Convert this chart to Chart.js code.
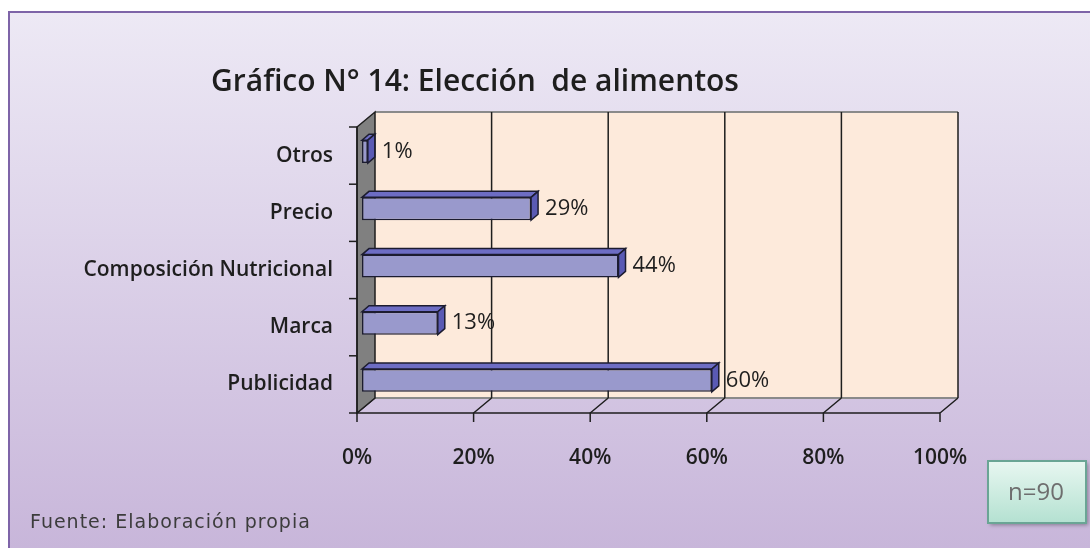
<!DOCTYPE html>
<html>
<head>
<meta charset="utf-8">
<script src="https://cdn.jsdelivr.net/npm/chart.js@4.4.1/dist/chart.umd.min.js"></script>
<style>
  html, body { margin: 0; padding: 0; background: #fff; }
</style>
</head>
<body>
<canvas id="eleccionChart" width="1090" height="548"></canvas>
<script>
// chart data
const categories = ['Otros', 'Precio', 'Composición Nutricional', 'Marca', 'Publicidad'];
const percentages = [1, 29, 44, 13, 60];
const tickValues = [0, 20, 40, 60, 80, 100];
const titleText = 'Gráfico N° 14: Elección  de alimentos';
const sourceText = 'Fuente: Elaboración propia';
const sampleText = 'n=90';

// 3d depth of the walls and of the bars
const DX = 18, DY = -15;
const BX = 7, BY = -6;

// background, walls, floor and the gridlines
const frame3d = {
  id: 'frame3d',
  beforeDraw(chart) {
    const ctx = chart.ctx;
    const xs = chart.scales.x;
    const a = chart.chartArea;
    ctx.save();
    ctx.fillStyle = '#fff';
    ctx.fillRect(0, 0, chart.width, chart.height);
    const g = ctx.createLinearGradient(0, 11, 0, 548);
    g.addColorStop(0, '#ede9f5');
    g.addColorStop(1, '#c8b6da');
    ctx.fillStyle = g;
    ctx.fillRect(9, 12, chart.width, chart.height);
    ctx.strokeStyle = '#7e64a8';
    ctx.lineWidth = 2;
    ctx.beginPath();
    ctx.moveTo(9, chart.height + 2);
    ctx.lineTo(9, 12);
    ctx.lineTo(chart.width + 2, 12);
    ctx.stroke();

    const x0 = xs.getPixelForValue(0), x1 = xs.getPixelForValue(100);
    // back wall
    ctx.fillStyle = '#fdeadb';
    ctx.fillRect(x0 + DX, a.top + DY, x1 - x0, a.bottom - a.top);
    ctx.strokeStyle = '#8a8a8a';
    ctx.lineWidth = 2;
    ctx.beginPath();
    ctx.moveTo(x0 + DX, a.top + DY);
    ctx.lineTo(x1 + DX, a.top + DY);
    ctx.moveTo(x0 + DX, a.bottom + DY);
    ctx.lineTo(x1 + DX, a.bottom + DY);
    ctx.stroke();
    // gridlines on the back wall and the floor
    ctx.strokeStyle = '#1e1e1e';
    ctx.lineWidth = 1.5;
    tickValues.forEach(v => {
      const x = xs.getPixelForValue(v);
      ctx.beginPath();
      if (v > 0) {
        ctx.moveTo(x + DX, a.top + DY);
        ctx.lineTo(x + DX, a.bottom + DY);
      }
      ctx.moveTo(x + DX, a.bottom + DY);
      ctx.lineTo(x, a.bottom);
      ctx.lineTo(x, a.bottom + 9);
      ctx.stroke();
    });
    // left wall
    ctx.fillStyle = '#808080';
    ctx.beginPath();
    ctx.moveTo(x0, a.top);
    ctx.lineTo(x0 + DX, a.top + DY);
    ctx.lineTo(x0 + DX, a.bottom + DY);
    ctx.lineTo(x0, a.bottom);
    ctx.closePath();
    ctx.fill();
    ctx.stroke();
    // front axis lines
    ctx.beginPath();
    ctx.moveTo(x0, a.top);
    ctx.lineTo(x0, a.bottom);
    ctx.lineTo(x1, a.bottom);
    ctx.stroke();
    const step = (a.bottom - a.top) / categories.length;
    for (let i = 0; i <= categories.length; i++) {
      const y = a.top + step * i;
      ctx.beginPath();
      ctx.moveTo(x0 - 8, y);
      ctx.lineTo(x0, y);
      ctx.stroke();
    }
    ctx.restore();
  },
  beforeDatasetsDraw(chart) {
    chart.ctx.save();
    chart.ctx.translate(5, -4);
  },
  afterDatasetsDraw(chart) {
    const ctx = chart.ctx;
    const meta = chart.getDatasetMeta(0);
    meta.data.forEach((bar, i) => {
      const top = bar.y - bar.height / 2;
      const bottom = bar.y + bar.height / 2;
      ctx.strokeStyle = '#1c1c30';
      ctx.lineWidth = 1.5;
      ctx.fillStyle = '#6d6dc4';
      ctx.beginPath();
      ctx.moveTo(bar.base, top);
      ctx.lineTo(bar.x, top);
      ctx.lineTo(bar.x + BX, top + BY);
      ctx.lineTo(bar.base + BX, top + BY);
      ctx.closePath();
      ctx.fill();
      ctx.stroke();
      ctx.fillStyle = '#5a5ab4';
      ctx.beginPath();
      ctx.moveTo(bar.x, top);
      ctx.lineTo(bar.x + BX, top + BY);
      ctx.lineTo(bar.x + BX, bottom + BY);
      ctx.lineTo(bar.x, bottom);
      ctx.closePath();
      ctx.fill();
      ctx.stroke();
      // value label
      ctx.fillStyle = '#1e1e1e';
      ctx.font = '22px "Open Sans"';
      ctx.textAlign = 'left';
      ctx.textBaseline = 'middle';
      ctx.fillText(percentages[i] + '%', bar.x + BX + 7, bar.y);
    });
    ctx.restore();
  },
  afterDraw(chart) {
    const ctx = chart.ctx;
    ctx.save();
    // source note
    ctx.fillStyle = '#3c3c3c';
    ctx.font = '19px "DejaVu Sans"';
    ctx.letterSpacing = '1px';
    ctx.textBaseline = 'middle';
    ctx.fillText(sourceText, 30, 523);
    ctx.letterSpacing = '0px';
    // sample size box
    ctx.shadowColor = 'rgba(0,0,0,0.35)';
    ctx.shadowBlur = 4;
    ctx.shadowOffsetX = 2;
    ctx.shadowOffsetY = 2;
    const g = ctx.createLinearGradient(0, 461, 0, 523);
    g.addColorStop(0, '#e8f7f1');
    g.addColorStop(1, '#b4e1d1');
    ctx.fillStyle = g;
    ctx.fillRect(988, 461, 98, 62);
    ctx.shadowColor = 'transparent';
    ctx.strokeStyle = '#6aa595';
    ctx.lineWidth = 2;
    ctx.strokeRect(988, 461, 98, 62);
    ctx.fillStyle = '#6e6e6e';
    ctx.font = '24px "Open Sans"';
    ctx.textAlign = 'center';
    ctx.fillText(sampleText, 1036, 493);
    ctx.restore();
  }
};

const ctxChart = document.getElementById('eleccionChart');

new Chart(ctxChart, {
  type: 'bar',
  data: {
    labels: categories,
    datasets: [{
      data: percentages,
      backgroundColor: '#9999cc',
      borderColor: '#1c1c30',
      borderWidth: 1.5,
      borderSkipped: false,
      barPercentage: 0.4,
      categoryPercentage: 1
    }]
  },
  options: {
    indexAxis: 'y',
    responsive: false,
    animation: false,
    devicePixelRatio: 1,
    layout: { padding: { left: 10, right: 150, top: 0, bottom: 0 } },
    plugins: {
      legend: { display: false },
      tooltip: { enabled: false },
      title: {
        display: true,
        text: titleText,
        color: '#1e1e1e',
        font: { family: 'Open Sans', size: 30, weight: '600', lineHeight: 1.2 },
        padding: { top: 64, bottom: 27 }
      }
    },
    scales: {
      x: {
        min: 0,
        max: 100,
        afterFit: s => { s.height = 135; },
        afterBuildTicks: s => { s.ticks = tickValues.map(v => ({ value: v })); },
        grid: { display: false, drawTicks: false },
        border: { display: false },
        ticks: {
          padding: 32,
          color: '#1e1e1e',
          font: { family: 'Open Sans', size: 21, weight: '600' },
          callback: v => v + '%'
        }
      },
      y: {
        afterFit: s => { s.width = 347; },
        grid: { display: false, drawTicks: false },
        border: { display: false },
        ticks: {
          padding: 24,
          color: '#1e1e1e',
          font: { family: 'Open Sans', size: 21, weight: '600' }
        }
      }
    }
  },
  plugins: [frame3d]
});
</script>
</body>
</html>
